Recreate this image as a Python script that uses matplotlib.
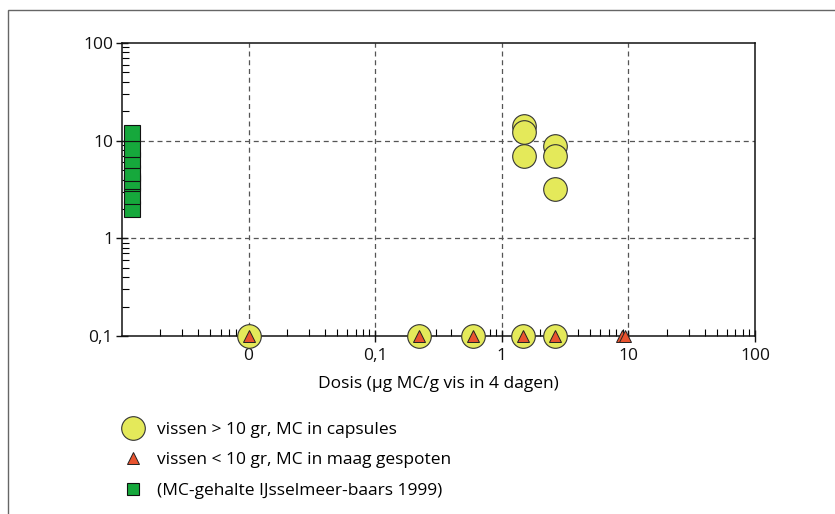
import matplotlib
matplotlib.use("Agg")
import matplotlib.pyplot as plt
from matplotlib.lines import Line2D
from matplotlib.patches import Rectangle
from matplotlib.ticker import FixedLocator, FixedFormatter, LogLocator, NullFormatter

plt.rcParams["font.family"] = ["Open Sans", "DejaVu Sans"]

# Fish > 10 g, MC given in capsules (dose 0 is placed at 0.01, below detection at 0.1)
capsule_dose = [0.01, 0.22, 0.59, 1.47, 2.64, 1.5, 1.5, 1.5, 2.64, 2.64, 2.64]
capsule_mc = [0.1, 0.1, 0.1, 0.1, 0.1, 14.1, 12.3, 7.0, 8.8, 6.9, 3.2]

# Fish < 10 g, MC injected into the stomach
inject_dose = [0.01, 0.22, 0.59, 1.47, 2.64, 8.9, 9.4]
inject_mc = [0.1, 0.1, 0.1, 0.1, 0.1, 0.1, 0.1]

# MC content IJsselmeer perch 1999 (shown at the left edge)
baars_dose = [0.0012] * 8
baars_mc = [2.0, 2.7, 3.7, 3.9, 4.7, 6.4, 8.3, 12.0]

x_ticks = [0.01, 0.1, 1, 10, 100]
x_labels = ["0", "0,1", "1", "10", "100"]
y_ticks = [0.1, 1, 10, 100]
y_labels = ["0,1", "1", "10", "100"]

yellow = "#e4e95a"
red = "#e8532f"
green = "#16a83c"
fs = 12.5

fig = plt.figure(figsize=(8.35, 5.14), dpi=100)
ax = fig.add_axes([0.1461, 0.3463, 0.7581, 0.570])

ax.set_xscale("log")
ax.set_yscale("log")
ax.set_xlim(0.001, 100)
ax.set_ylim(0.1, 100)

ax.plot(capsule_dose, capsule_mc, "o", ms=17, mfc=yellow, mec="#333333", mew=0.8,
        clip_on=False, zorder=3)
ax.plot(inject_dose, inject_mc, "^", ms=9, mfc=red, mec="#222222", mew=0.7,
        clip_on=False, zorder=4)
ax.plot(baars_dose, baars_mc, "s", ms=12, mfc=green, mec="#111111", mew=0.8,
        clip_on=False, zorder=4)

# dashed grid only at the inner decades
for v in [0.01, 0.1, 1, 10]:
    ax.axvline(v, color="#555555", lw=0.9, ls=(0, (4, 3)), zorder=1)
for v in [1, 10]:
    ax.axhline(v, color="#555555", lw=0.9, ls=(0, (4, 3)), zorder=1)

ax.xaxis.set_major_locator(FixedLocator(x_ticks))
ax.xaxis.set_major_formatter(FixedFormatter(x_labels))
ax.yaxis.set_major_locator(FixedLocator(y_ticks))
ax.yaxis.set_major_formatter(FixedFormatter(y_labels))
ax.xaxis.set_minor_locator(LogLocator(base=10, subs=range(2, 10), numticks=20))
ax.yaxis.set_minor_locator(LogLocator(base=10, subs=range(2, 10), numticks=20))
ax.xaxis.set_minor_formatter(NullFormatter())
ax.yaxis.set_minor_formatter(NullFormatter())

ax.tick_params(which="major", direction="inout", length=9, width=1, labelsize=fs,
               colors="#111111")
ax.tick_params(which="minor", direction="in", length=5, width=0.8)
ax.tick_params(axis="x", pad=4)
ax.tick_params(axis="y", pad=2)
for s in ax.spines.values():
    s.set_linewidth(1.1)
    s.set_color("#111111")

ax.set_xlabel("Dosis (\u00b5g MC/g vis in 4 dagen)", fontsize=fs, labelpad=9)

handles = [
    Line2D([], [], ls="none", marker="o", ms=17, mfc=yellow, mec="#333333", mew=0.8),
    Line2D([], [], ls="none", marker="^", ms=9, mfc=red, mec="#222222", mew=0.7),
    Line2D([], [], ls="none", marker="s", ms=8, mfc=green, mec="#111111", mew=0.8),
]
labels = ["vissen > 10 gr, MC in capsules",
          "vissen < 10 gr, MC in maag gespoten",
          "(MC-gehalte IJsselmeer-baars 1999)"]
fig.legend(handles, labels, loc="upper left", bbox_to_anchor=(0.1467, 0.180),
           frameon=False, fontsize=fs, handlelength=1.2, handletextpad=0.78,
           labelspacing=0.83, borderpad=0, borderaxespad=0)

# thin outer frame
fig.patches.append(Rectangle((8 / 835, -0.1), 1.2, 1 - 10 / 514 + 0.1,
                             transform=fig.transFigure, fill=False,
                             edgecolor="#666666", lw=1.0))

fig.savefig("out.png", dpi=100)
